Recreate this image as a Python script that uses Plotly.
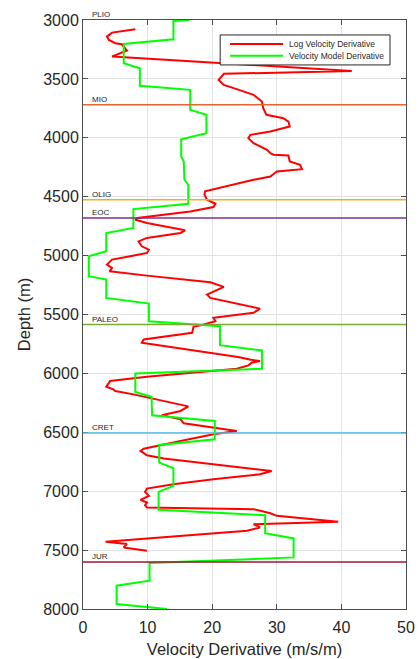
import plotly.graph_objects as go

# Log velocity derivative (m/s/m) against depth (m)
log_deriv = [8.1, 4.5, 3.7, 4.0, 5.0, 6.0, 6.8, 5.8, 4.5, 41.6, 21.8, 21.0, 21.8, 23.8,
             26.4, 27.7, 27.9, 28.4, 31.0, 31.8, 32.0, 29.0, 25.9, 25.6, 26.4, 28.5,
             29.0, 29.5, 31.8, 32.0, 33.6, 33.9, 30.0, 29.0, 26.4, 18.9, 18.8, 19.2,
             20.5, 20.2, 16.6, 8.4, 8.1, 9.9, 14.0, 15.8, 15.1, 9.9, 8.6, 9.1, 10.2,
             9.9, 7.3, 4.5, 3.7, 4.5, 4.1, 9.9, 19.7, 21.8, 19.2, 19.7, 27.4, 26.4,
             20.2, 20.5, 18.7, 17.1, 16.9, 9.4, 9.1, 15.1, 24.0, 26.0, 27.4, 26.1,
             25.6, 23.8, 9.9, 4.2, 3.6, 4.7, 5.0, 7.8, 12.5, 16.3, 15.1, 12.2, 15.1,
             15.6, 23.8, 20.2, 15.1, 9.4, 8.9, 9.9, 12.5, 20.2, 29.2, 27.4, 20.2,
             14.0, 9.9, 9.6, 10.2, 8.9, 9.9, 9.6, 9.9, 26.4, 29.0, 30.0, 39.5, 26.4,
             27.4, 25.4, 3.5, 6.8, 6.3, 9.9]
log_depth = [3079, 3107, 3141, 3169, 3197, 3206, 3260, 3282, 3310, 3432, 3457, 3508, 3551,
             3587, 3635, 3692, 3748, 3805, 3834, 3862, 3904, 3947, 3975, 4003, 4046,
             4102, 4130, 4144, 4150, 4201, 4229, 4266, 4286, 4328, 4356, 4455, 4483,
             4526, 4560, 4588, 4625, 4681, 4695, 4723, 4766, 4785, 4808, 4850, 4879,
             4921, 4949, 4977, 5006, 5034, 5076, 5105, 5133, 5170, 5226, 5266, 5331,
             5359, 5450, 5486, 5528, 5557, 5585, 5605, 5655, 5712, 5740, 5790, 5860,
             5885, 5895, 5910, 5932, 5961, 6028, 6065, 6113, 6136, 6150, 6178, 6235,
             6280, 6319, 6356, 6390, 6424, 6489, 6517, 6574, 6639, 6658, 6695, 6723,
             6771, 6828, 6856, 6898, 6941, 6978, 7006, 7040, 7074, 7096, 7119, 7139,
             7153, 7187, 7209, 7260, 7280, 7308, 7336, 7430, 7449, 7478, 7506]

# Velocity model derivative (m/s/m) against depth (m)
model_deriv = [16.5, 14.0, 14.0, 6.3, 6.3, 8.8, 8.8, 16.6, 16.6, 19.1, 19.1, 15.2, 15.2,
               15.6, 15.7, 16.3, 16.3, 7.8, 7.8, 3.6, 3.6, 0.9, 0.9, 3.6, 3.6, 10.2,
               10.2, 21.2, 21.2, 27.7, 27.7, 8.1, 8.1, 10.6, 10.7, 20.4, 20.4, 11.8,
               11.8, 14.0, 14.0, 11.7, 11.7, 28.2, 28.2, 32.6, 32.6, 10.3, 10.3, 5.2,
               5.2, 13.0]
model_depth = [3000, 3008, 3164, 3203, 3367, 3409, 3559, 3593, 3763, 3805, 3961, 4012,
               4159, 4201, 4356, 4399, 4560, 4605, 4766, 4808, 4963, 5006, 5175, 5203,
               5359, 5407, 5557, 5599, 5760, 5805, 5961, 6000, 6158, 6198, 6356, 6404,
               6560, 6607, 6757, 6805, 6955, 7006, 7158, 7204, 7356, 7401, 7562, 7610,
               7760, 7802, 7958, 8000]

# Formation tops
formations = ["PLIO", "MIO", "OLIG", "EOC", "PALEO", "CRET", "JUR"]
formation_tops = [3000, 3720, 4525, 4680, 5585, 6505, 7600]
formation_colors = [None, "#E8662E", "#EDB120", "#7E2F8E", "#77AC30", "#4DBEEE", "#A2142F"]

x_ticks = [0, 10, 20, 30, 40, 50]
y_ticks = [3000, 3500, 4000, 4500, 5000, 5500, 6000, 6500, 7000, 7500, 8000]

series_names = ["Log Velocity Derivative", "Velocity Model Derivative"]
series_colors = ["#FF0000", "#00FF00"]

FONT = "Liberation Sans, Arial, sans-serif"
TXT = "#262626"

fig = go.Figure()

fig.add_trace(go.Scatter(
    x=log_deriv, y=log_depth, mode="lines", name=series_names[0],
    line=dict(color=series_colors[0], width=2), showlegend=False))
fig.add_trace(go.Scatter(
    x=model_deriv, y=model_depth, mode="lines", name=series_names[1],
    line=dict(color=series_colors[1], width=2), showlegend=False))

for name, top, col in zip(formations, formation_tops, formation_colors):
    if col is not None:
        fig.add_shape(type="line", xref="x domain", x0=0, x1=1, yref="y", y0=top, y1=top,
                      line=dict(color=col, width=1.5), layer="above")
    fig.add_annotation(x=0.022, xref="x domain", y=top, yref="y", text=name,
                       showarrow=False, xanchor="left", yanchor="bottom", yshift=-1,
                       font=dict(family=FONT, size=8, color=TXT))

# Compact boxed legend in the upper right of the axes
fig.add_shape(type="rect", xref="x domain", yref="y domain",
              x0=0.4247, x1=0.9505, y0=0.9237, y1=0.9746,
              line=dict(color=TXT, width=1), fillcolor="white", layer="above")
for i, (label, col) in enumerate(zip(series_names, series_colors)):
    yy = 0.9593 - i * 0.0199
    fig.add_shape(type="line", xref="x domain", yref="y domain",
                  x0=0.4551, x1=0.6196, y0=yy, y1=yy,
                  line=dict(color=col, width=2), layer="above")
    fig.add_annotation(x=0.6329, y=yy, xref="x domain", yref="y domain", text=label,
                       showarrow=False, xanchor="left", yanchor="middle",
                       font=dict(family=FONT, size=8.5, color=TXT))

axis_common = dict(
    showline=True, linecolor="#4D4D4D", linewidth=1, mirror="ticks",
    ticks="inside", ticklen=5, tickcolor="#4D4D4D", tickwidth=1,
    showgrid=True, gridcolor="#E3E3E3", gridwidth=1, zeroline=False,
    automargin=False,
    tickfont=dict(family=FONT, size=16, color=TXT),
)

fig.update_xaxes(range=[0, 50], tickvals=x_ticks, ticklabelstandoff=4,
                 title=dict(text="Velocity Derivative (m/s/m)", standoff=8,
                            font=dict(family=FONT, size=16.5, color=TXT)),
                 **axis_common)
fig.update_yaxes(range=[8000, 3000], tickvals=y_ticks,
                 title=dict(text="Depth (m)", standoff=8,
                            font=dict(family=FONT, size=16.5, color=TXT)),
                 **axis_common)

fig.update_layout(
    width=419, height=659,
    margin=dict(l=83, r=13, t=20, b=50),
    paper_bgcolor="white", plot_bgcolor="white",
    showlegend=False,
)

fig.write_html("out.html")
